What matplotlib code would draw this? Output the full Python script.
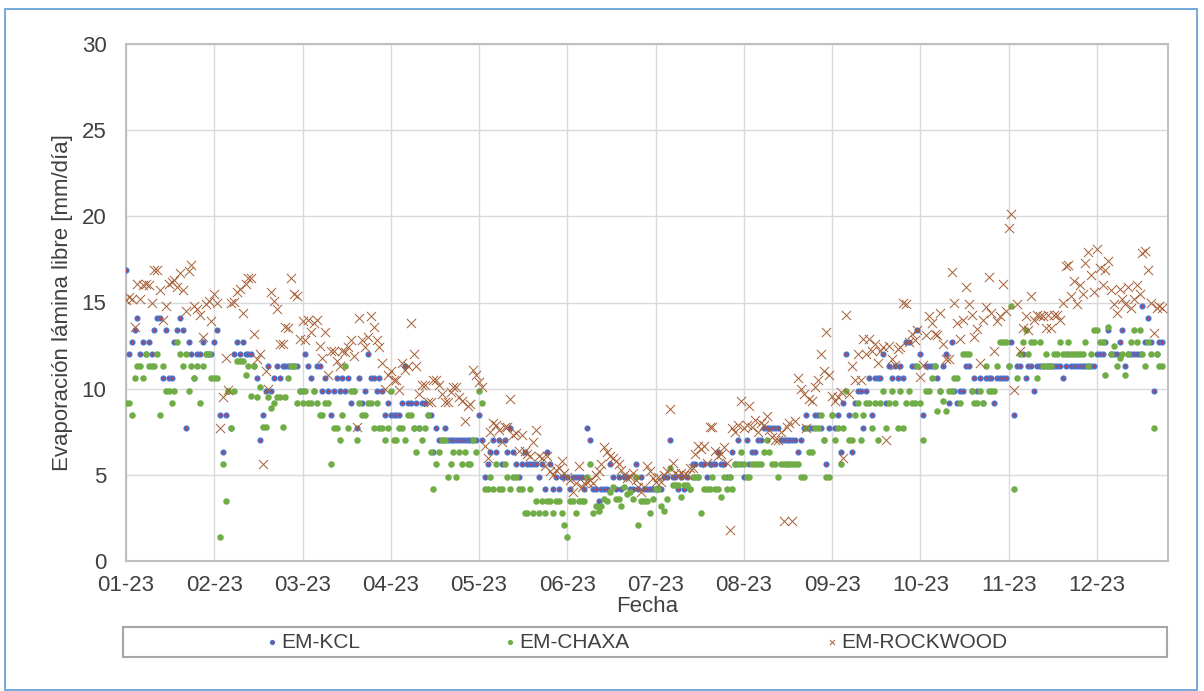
import numpy as np
import matplotlib
matplotlib.use("Agg")
import matplotlib.pyplot as plt
import matplotlib.dates as mdates
from matplotlib.patches import Rectangle

plt.rcParams['font.family'] = ['Liberation Sans', 'DejaVu Sans']

# evaporacion diaria 2023 [mm/dia], un renglon por mes (ene..dic)
kcl = [
    16.9, 12.0, 12.7, 13.4, 14.1, 12.0, 12.7, 12.0, 12.7, 12.0, 13.4, 14.1, 14.1, 10.6, 13.4, 10.6, 10.6, 12.7, 13.4, 14.1, 13.4, 7.7, 12.7, 12.0, 10.6, 12.0, 12.0, 12.7, 12.0, 12.0, 12.0,
    12.7, 13.4, 8.45, 6.35, 8.45, 9.85, 7.7, 12.0, 12.7, 12.0, 12.7, 12.0, 12.0, 12.0, 11.3, 10.6, 7.0, 8.45, 9.85, 11.3, 9.85, 10.6, 11.3, 10.6, 11.3, 11.3, 11.3, 11.3,
    11.3, 11.3, 9.85, 9.85, 12.0, 11.3, 10.6, 9.85, 11.3, 11.3, 9.85, 10.6, 9.85, 8.45, 9.85, 10.6, 9.85, 10.6, 9.85, 10.6, 9.15, 9.85, 7.7, 10.6, 9.15, 9.85, 12.0, 10.6, 10.6, 9.85, 10.6,
    9.85, 8.45, 9.15, 8.45, 8.45, 8.45, 8.45, 9.15, 11.3, 9.15, 9.15, 7.7, 9.15, 7.7, 9.15, 9.15, 8.45, 8.45, 6.35, 7.7, 7.0, 7.0, 7.7, 7.0, 7.0, 7.0, 7.0, 7.0, 7.0, 7.0,
    7.0, 7.0, 7.0, 7.0, 8.45, 7.0, 4.9, 5.6, 6.35, 7.0, 6.35, 7.0, 5.6, 7.0, 6.35, 7.7, 6.35, 5.6, 4.9, 5.6, 6.35, 5.6, 5.6, 5.6, 5.6, 4.9, 5.6, 4.2, 6.35, 5.6, 4.2,
    4.9, 4.2, 4.9, 4.9, 4.9, 4.2, 4.9, 4.9, 4.9, 4.9, 4.2, 7.7, 7.0, 4.2, 4.2, 3.5, 4.2, 4.2, 4.2, 5.6, 4.9, 4.2, 4.9, 4.2, 4.9, 4.9, 4.2, 4.2, 5.6, 4.2,
    4.9, 4.2, 4.2, 4.2, 4.2, 4.2, 4.2, 4.2, 4.9, 4.9, 7.0, 4.9, 4.9, 4.2, 4.9, 4.2, 4.9, 4.2, 5.6, 5.6, 4.9, 5.6, 5.6, 4.9, 5.6, 5.6, 5.6, 6.35, 5.6, 5.6, 4.9,
    4.9, 6.35, 5.6, 7.0, 5.6, 4.9, 7.0, 5.6, 6.35, 6.35, 7.0, 7.0, 7.7, 7.7, 7.7, 7.7, 7.7, 7.7, 7.0, 7.0, 7.0, 7.0, 7.0, 7.0, 6.35, 7.0, 7.7, 8.45, 7.7, 7.7, 8.45,
    8.45, 7.7, 7.0, 5.6, 7.7, 8.45, 7.7, 8.45, 6.35, 9.15, 12.0, 8.45, 6.35, 9.15, 9.85, 9.85, 7.7, 9.85, 10.6, 8.45, 10.6, 10.6, 10.6, 12.0, 9.15, 11.3, 10.6, 11.3, 10.6, 11.3,
    10.6, 12.7, 12.7, 11.3, 11.3, 13.4, 12.0, 8.45, 11.3, 11.3, 11.3, 11.3, 10.6, 9.85, 11.3, 12.0, 9.15, 12.7, 9.85, 9.15, 9.85, 9.85, 11.3, 11.3, 9.85, 10.6, 9.85, 10.6, 9.15, 10.6, 10.6,
    10.6, 9.15, 10.6, 10.6, 10.6, 10.6, 11.3, 12.7, 8.45, 11.3, 11.3, 12.0, 10.6, 11.3, 11.3, 9.85, 11.3, 11.3, 11.3, 11.3, 11.3, 11.3, 11.3, 11.3, 11.3, 10.6, 11.3, 12.0, 11.3, 11.3,
    11.3, 11.3, 11.3, 11.3, 11.3, 11.3, 11.3, 12.0, 12.0, 12.0, 12.7, 13.4, 12.0, 12.0, 12.0, 12.7, 13.4, 11.3, 12.0, 12.0, 12.0, 12.0, 12.0, 14.8, 12.7, 14.1, 12.7, 9.85, 12.0, 12.7, 12.7,
]

chaxa = [
    9.15, 9.15, 8.45, 10.6, 11.3, 11.3, 10.6, 12.0, 11.3, 11.3, 11.3, 12.0, 8.45, 11.3, 9.85, 9.85, 9.15, 9.85, 12.7, 12.0, 11.3, 12.0, 9.85, 11.3, 10.6, 11.3, 9.15, 11.3, 12.0, 12.0, 10.6,
    10.6, 10.6, 1.4, 5.6, 3.5, 9.85, 7.7, 9.85, 11.6, 11.6, 11.6, 10.8, 11.3, 9.6, 11.3, 9.5, 10.1, 7.8, 7.8, 9.5, 8.9, 9.15, 9.5, 9.5, 7.8, 9.5, 10.6, 11.3,
    11.3, 9.15, 9.85, 9.15, 9.85, 9.15, 9.15, 9.85, 9.15, 8.45, 8.45, 9.15, 9.15, 5.6, 7.7, 7.7, 7.0, 8.45, 11.3, 7.7, 9.85, 9.85, 7.0, 9.15, 8.45, 8.45, 9.15, 9.15, 7.7, 9.15, 7.7,
    7.7, 7.0, 7.7, 9.85, 7.0, 7.0, 7.7, 7.7, 7.0, 8.45, 8.45, 7.7, 6.35, 7.7, 7.0, 7.7, 8.45, 6.35, 4.2, 5.6, 6.35, 7.0, 7.0, 4.9, 5.6, 6.35, 4.9, 6.35, 5.6, 6.35,
    5.6, 5.6, 7.0, 6.35, 9.85, 9.15, 4.2, 4.2, 4.9, 4.2, 5.6, 4.2, 4.2, 5.6, 4.9, 4.2, 4.9, 4.9, 4.2, 4.2, 2.8, 2.8, 4.2, 2.8, 3.5, 2.8, 3.5, 2.8, 3.5, 3.5, 2.8,
    3.5, 3.5, 2.8, 2.1, 1.4, 3.5, 3.5, 2.8, 3.5, 3.5, 3.5, 4.9, 5.6, 2.8, 3.2, 2.9, 3.2, 3.6, 3.5, 4.0, 4.3, 3.6, 3.6, 3.2, 4.3, 3.9, 4.0, 3.6, 4.9, 2.1,
    3.5, 3.5, 3.5, 2.8, 3.6, 4.2, 4.2, 3.2, 2.9, 3.6, 5.4, 4.4, 4.4, 4.4, 3.7, 4.4, 4.4, 4.2, 4.9, 4.9, 4.9, 2.8, 4.2, 4.2, 4.2, 4.9, 4.2, 4.2, 3.7, 4.9, 4.2,
    4.9, 4.2, 5.6, 5.6, 6.35, 5.6, 4.9, 4.9, 5.6, 5.6, 5.6, 5.6, 6.35, 7.0, 6.35, 5.6, 5.6, 4.9, 5.6, 5.6, 5.6, 5.6, 5.6, 5.6, 5.6, 4.9, 4.9, 7.7, 6.35, 6.35, 7.7,
    7.7, 8.45, 7.0, 4.9, 4.9, 8.45, 7.0, 7.7, 5.6, 7.7, 9.85, 7.0, 7.0, 8.45, 9.15, 7.0, 8.45, 9.15, 9.15, 7.7, 9.15, 7.0, 9.15, 9.85, 7.7, 9.15, 9.85, 9.15, 7.7, 9.85,
    7.7, 9.15, 9.85, 9.15, 9.15, 11.3, 9.15, 7.0, 9.85, 9.85, 10.6, 11.3, 8.7, 9.85, 9.3, 8.7, 9.85, 9.85, 10.6, 10.6, 9.15, 12.0, 12.0, 12.0, 9.85, 9.15, 9.15, 9.85, 9.15, 11.3, 9.85,
    9.85, 9.85, 11.3, 12.7, 12.7, 12.7, 11.3, 14.8, 4.2, 10.6, 12.0, 12.7, 13.4, 12.0, 12.7, 12.7, 10.6, 12.7, 11.3, 12.0, 11.3, 11.3, 12.0, 12.0, 12.7, 12.0, 12.0, 12.7, 12.0, 12.0,
    12.0, 12.0, 12.0, 12.7, 11.3, 12.0, 13.4, 13.4, 12.7, 12.7, 10.8, 13.6, 12.0, 12.5, 11.3, 11.8, 12.0, 10.8, 12.0, 12.7, 13.4, 12.7, 13.4, 12.0, 11.3, 12.7, 12.0, 7.7, 12.0, 11.3, 11.3,
]

rockwood = [
    15.15, 15.3, 15.2, 13.6, 16.1, 15.2, 16.0, 16.1, 16.0, 15.0, 16.9, 16.9, 15.7, 14.0, 14.8, 16.1, 16.2, 16.3, 15.9, 16.7, 15.7, 14.5, 16.8, 17.2, 14.8, 14.6, 14.3, 13.0, 14.9, 15.1, 13.9,
    15.5, 15.0, 7.7, 9.5, 11.8, 9.9, 15.0, 15.05, 15.6, 15.8, 14.4, 16.1, 16.4, 16.4, 13.2, 11.7, 12.0, 5.6, 11.0, 10.0, 15.6, 15.1, 14.6, 12.6, 12.6, 13.6, 13.5, 16.4,
    15.5, 15.4, 12.9, 13.9, 12.8, 14.0, 13.3, 13.8, 14.0, 12.5, 11.8, 13.3, 10.8, 12.2, 12.2, 11.6, 11.3, 12.2, 12.1, 12.4, 12.8, 11.9, 7.8, 14.1, 12.8, 12.4, 13.0, 14.2, 13.6, 12.8, 12.4,
    11.5, 10.0, 10.8, 11.0, 10.5, 10.5, 9.9, 11.5, 11.1, 11.3, 13.8, 12.0, 11.3, 9.7, 10.2, 10.2, 9.2, 9.2, 10.5, 10.5, 10.2, 9.7, 9.2, 9.2, 9.8, 10.1, 10.1, 9.5, 9.3, 8.1,
    9.0, 9.1, 11.1, 10.8, 10.4, 10.1, 6.7, 5.95, 7.5, 8.0, 7.9, 7.6, 6.9, 7.8, 7.8, 9.4, 7.3, 7.4, 6.4, 7.3, 6.4, 6.2, 6.1, 6.9, 7.6, 6.1, 6.0, 5.5, 6.1, 5.2, 5.0,
    5.3, 5.4, 5.8, 5.1, 4.9, 4.7, 4.0, 4.5, 5.5, 4.3, 4.5, 4.6, 4.7, 4.5, 5.0, 5.2, 5.6, 6.6, 6.3, 6.1, 6.0, 5.8, 5.6, 5.3, 5.0, 4.8, 4.9, 5.1, 4.7, 4.3,
    4.0, 4.3, 5.5, 5.2, 4.8, 4.6, 4.9, 4.6, 5.0, 5.2, 8.8, 5.7, 5.1, 5.0, 5.1, 5.0, 5.0, 5.4, 5.4, 6.2, 6.7, 6.5, 6.7, 5.7, 7.8, 7.8, 6.4, 6.1, 6.2, 6.6, 5.7,
    1.8, 7.7, 7.5, 7.9, 9.3, 7.7, 7.9, 9.0, 7.8, 8.2, 7.5, 8.0, 7.9, 8.4, 7.6, 7.2, 7.0, 7.0, 7.5, 2.3, 7.8, 8.0, 2.3, 8.1, 10.6, 10.0, 9.7, 7.7, 9.4, 9.3, 10.1,
    10.5, 12.0, 11.0, 13.3, 10.8, 9.6, 9.3, 9.5, 9.8, 6.0, 14.3, 9.7, 11.3, 10.5, 12.0, 10.5, 12.9, 12.0, 12.9, 12.2, 12.6, 11.5, 12.2, 12.4, 7.0, 12.5, 11.7, 11.4, 12.3, 12.4,
    15.0, 14.9, 12.7, 13.2, 12.8, 13.4, 10.7, 11.4, 13.1, 14.2, 13.8, 13.2, 13.1, 14.4, 12.6, 11.7, 11.7, 16.75, 14.95, 13.8, 12.9, 14.0, 15.9, 14.9, 14.3, 13.0, 13.45, 11.5, 14.0, 14.75, 16.5,
    14.4, 12.2, 13.9, 14.2, 16.1, 14.5, 19.3, 20.15, 9.95, 14.9, 12.2, 13.5, 14.2, 13.4, 15.4, 14.0, 14.3, 14.2, 14.2, 13.5, 14.3, 13.5, 14.3, 14.3, 14.0, 15.0, 17.1, 17.2, 15.4, 16.25,
    14.9, 16.0, 15.5, 17.3, 17.95, 16.6, 15.6, 18.1, 17.0, 16.0, 16.9, 17.4, 15.7, 14.9, 14.4, 15.8, 15.2, 14.9, 15.9, 14.7, 15.2, 16.0, 15.5, 17.85, 18.0, 16.9, 15.0, 13.25, 14.7, 14.8, 14.7,
]

series = ['EM-KCL', 'EM-CHAXA', 'EM-ROCKWOOD']

inicio = np.datetime64('2023-01-01')
dias = inicio + np.arange(len(kcl))
marcas = inicio + np.arange(12) * 31

W, H = 1204, 691
fig = plt.figure(figsize=(W / 100, H / 100), dpi=100)
ax = fig.add_axes([126 / W, 1 - 561 / H, 1042 / W, 517 / H])

gris = '#404040'
s1 = ax.scatter(dias, kcl, s=9, c='#E8262B', edgecolors='#4A72C8', linewidths=1.4, zorder=3)
s2 = ax.scatter(dias, chaxa, s=22, c='#70AD47', linewidths=0, zorder=4)
s3 = ax.scatter(dias, rockwood, s=44, marker='x', c='#A65F36', linewidths=0.7, zorder=5)

ax.set_ylim(0, 30)
ax.set_yticks(range(0, 31, 5))
ax.set_xlim(mdates.date2num(inicio), mdates.date2num(inicio + np.timedelta64(366, 'D')))
ax.set_xticks(mdates.date2num(marcas))
ax.xaxis.set_major_formatter(mdates.DateFormatter('%m-%y'))

ax.grid(True, color='#D9D9D9', lw=1.0)
ax.set_axisbelow(True)
for sp in ax.spines.values():
    sp.set_color('#BFBFBF')
    sp.set_linewidth(1.5)
ax.tick_params(length=0, labelsize=16, labelcolor=gris)
ax.tick_params(axis='y', pad=14)
ax.tick_params(axis='x', pad=10)

ax.set_ylabel('Evaporación lámina libre [mm/día]', fontsize=16, color=gris, labelpad=6)
ax.set_xlabel('Fecha', fontsize=16, color=gris, labelpad=0)

# leyenda abajo, en un recuadro
fig.add_artist(Rectangle((123 / W, 1 - 657 / H), 1044 / W, 30 / H, transform=fig.transFigure,
                         fill=False, ec='#A6A6A6', lw=1.5))
for art, lab, xp, esc in zip([s1, s2, s3], series, [267, 505, 827], [0.8, 0.8, 0.55]):
    fig.legend(handles=[art], labels=[lab], loc='center left', bbox_to_anchor=(xp / W, 1 - 642 / H),
               frameon=False, fontsize=15, labelcolor=gris, handlelength=0.5, handletextpad=0.2,
               borderpad=0, borderaxespad=0, markerscale=esc)

# marco exterior del grafico
fig.add_artist(Rectangle((4.5 / W, 1 / H), 1192 / W, (H - 9.5) / H, transform=fig.transFigure,
                         fill=False, ec='#5B9BD5', lw=1.2))

fig.savefig('out.png', dpi=100)
